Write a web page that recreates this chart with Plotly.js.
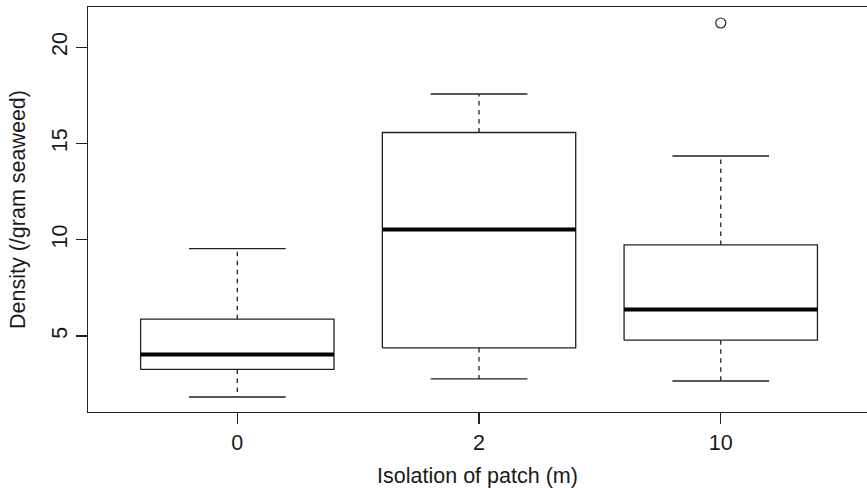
<!DOCTYPE html>
<html>
<head>
<meta charset="utf-8">
<script src="https://cdn.plot.ly/plotly-3.0.1.min.js"></script>
<style>html,body{margin:0;padding:0;background:#fff;}</style>
</head>
<body>
<div id="chart" style="width:867px;height:488px;"></div>
<script>
// Data
const categories = ['0', '2', '10'];
const lowerWhisker = [1.83, 2.77, 2.66];
const q1 = [3.26, 4.38, 4.78];
const median = [4.04, 10.53, 6.37];
const q3 = [5.87, 15.57, 9.73];
const upperWhisker = [9.54, 17.57, 14.35];
const outlierGroup = ['10'];
const outlierValue = [21.26];

const positions = categories.map((c, i) => i + 1);
const halfBox = 0.4, halfCap = 0.2;
const lineCol = '#222';
const traces = [];

categories.forEach((c, i) => {
  const x = positions[i];
  traces.push({
    type: 'scatter', mode: 'lines', hoverinfo: 'skip', showlegend: false,
    x: [x - halfBox, x + halfBox, x + halfBox, x - halfBox, x - halfBox],
    y: [q1[i], q1[i], q3[i], q3[i], q1[i]],
    line: {color: lineCol, width: 1.3}
  });
  traces.push({
    type: 'scatter', mode: 'lines', hoverinfo: 'skip', showlegend: false,
    x: [x - halfBox, x + halfBox], y: [median[i], median[i]],
    line: {color: '#000', width: 4}
  });
  traces.push({
    type: 'scatter', mode: 'lines', hoverinfo: 'skip', showlegend: false,
    x: [x, x, null, x, x], y: [q3[i], upperWhisker[i], null, q1[i], lowerWhisker[i]],
    line: {color: lineCol, width: 1.3, dash: '4.5px,4.5px'}
  });
  traces.push({
    type: 'scatter', mode: 'lines', hoverinfo: 'skip', showlegend: false,
    x: [x - halfCap, x + halfCap, null, x - halfCap, x + halfCap],
    y: [upperWhisker[i], upperWhisker[i], null, lowerWhisker[i], lowerWhisker[i]],
    line: {color: lineCol, width: 1.3}
  });
});

traces.push({
  type: 'scatter', mode: 'markers', hoverinfo: 'skip', showlegend: false,
  x: outlierGroup.map(g => positions[categories.indexOf(g)]),
  y: outlierValue,
  marker: {symbol: 'circle-open', size: 10, color: lineCol, line: {width: 1.2, color: lineCol}}
});

const fontFam = '"Liberation Sans", Arial, Helvetica, sans-serif';
const fs = 21.5;
const layout = {
  width: 867, height: 488,
  margin: {l: 88, r: 0, t: 7, b: 76},
  paper_bgcolor: '#fff', plot_bgcolor: '#fff',
  font: {family: fontFam, size: fs, color: '#1a1a1a'},
  showlegend: false,
  xaxis: {
    range: [0.3823, 3.605],
    tickmode: 'array', tickvals: positions, ticktext: categories,
    ticks: 'outside', ticklen: 11, tickwidth: 1.3, tickcolor: lineCol,
    showline: true, linecolor: lineCol, linewidth: 1.3, mirror: true,
    showgrid: false, zeroline: false,
    title: {text: 'Isolation of patch (m)', font: {size: fs}, standoff: 16}
  },
  yaxis: {
    range: [1.05, 22.09],
    tickmode: 'array', tickvals: [5, 10, 15, 20],
    tickangle: -90,
    ticks: 'outside', ticklen: 11, tickwidth: 1.3, tickcolor: lineCol,
    showline: true, linecolor: lineCol, linewidth: 1.3, mirror: false,
    showgrid: false, zeroline: false,
    title: {text: 'Density (/gram seaweed)', font: {size: fs}, standoff: 16}
  }
};

Plotly.newPlot('chart', traces, layout, {displayModeBar: false, staticPlot: true});
</script>
</body>
</html>
